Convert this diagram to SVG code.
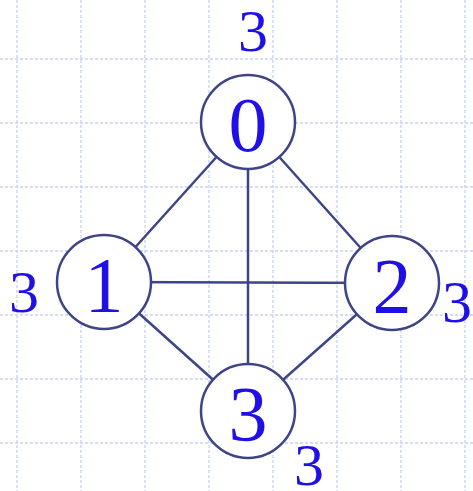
<svg xmlns="http://www.w3.org/2000/svg" width="473" height="491" viewBox="0 0 473 491">
<style>
.grid{stroke:#c6d2f4;stroke-width:1.3;stroke-dasharray:3 2;fill:none}
.node{fill:#fff;stroke:#3d4488;stroke-width:2.5}
.edge{stroke:#3d4488;stroke-width:2.5;fill:none}
.lbl{font-family:"Liberation Serif","Times New Roman",serif;font-size:78px;fill:#2010e8;text-anchor:middle}
.deg{font-family:"Liberation Serif","Times New Roman",serif;font-size:60px;fill:#2010e8;text-anchor:middle}
</style>
<rect width="473" height="491" fill="#fff"/>
<g id="grid" class="grid">
<path d="M17 0V491M81 0V491M145 0V491M209 0V491M273 0V491M337 0V491M401 0V491M465 0V491"/>
<path d="M0 59H473M0 123H473M0 187H473M0 251H473M0 315H473M0 379H473M0 443H473"/>
</g>
<g id="connectors" class="edge">
<line x1="248" y1="122" x2="104" y2="282"/>
<line x1="248" y1="122" x2="392" y2="283"/>
<line x1="248" y1="122" x2="248" y2="411"/>
<line x1="104" y1="282" x2="392" y2="283"/>
<line x1="104" y1="282" x2="248" y2="411"/>
<line x1="392" y1="283" x2="248" y2="411"/>
</g>
<g id="node0"><circle class="node" cx="248" cy="122" r="47"/><text class="lbl" x="248" y="151">0</text></g>
<g id="node1"><circle class="node" cx="104" cy="282" r="47"/><text class="lbl" x="104" y="311">1</text></g>
<g id="node2"><circle class="node" cx="392" cy="283" r="47"/><text class="lbl" x="392" y="312">2</text></g>
<g id="node3"><circle class="node" cx="248" cy="411" r="47"/><text class="lbl" x="248" y="440">3</text></g>
<g id="degrees">
<text class="deg" x="253" y="51">3</text>
<text class="deg" x="24" y="312">3</text>
<text class="deg" x="457" y="322">3</text>
<text class="deg" x="309" y="485">3</text>
</g>
</svg>
